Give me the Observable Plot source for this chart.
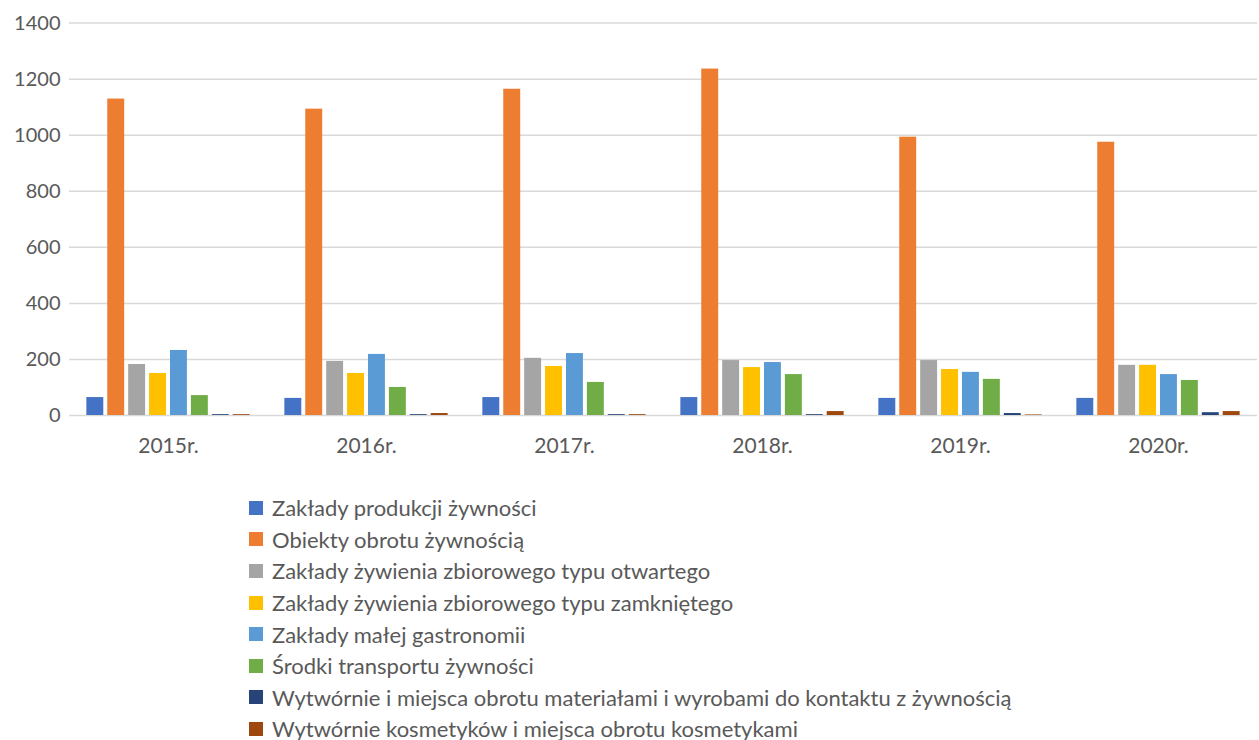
<!DOCTYPE html>
<html>
<head>
<meta charset="utf-8">
<script src="https://cdn.jsdelivr.net/npm/d3@7"></script>
<script src="https://cdn.jsdelivr.net/npm/@observablehq/plot@0.6"></script>
<style>
  html, body { margin: 0; padding: 0; background: #fff; }
  body { width: 1259px; height: 740px; overflow: hidden; font-family: Lato, "Open Sans", sans-serif; color: #595959; }
  #legend { margin-top: 22px; padding-left: 249px; }
  .row { height: 31.6px; display: flex; align-items: center; font-size: 22px; white-space: nowrap; }
  .sw { width: 14px; height: 14px; margin-right: 9px; flex: none; }
</style>
</head>
<body>
<div id="chart"></div>
<div id="legend"></div>
<script>
const years = ["2015r.", "2016r.", "2017r.", "2018r.", "2019r.", "2020r."];
const series = [
  "Zakłady produkcji żywności",
  "Obiekty obrotu żywnością",
  "Zakłady żywienia zbiorowego typu otwartego",
  "Zakłady żywienia zbiorowego typu zamkniętego",
  "Zakłady małej gastronomii",
  "Środki transportu żywności",
  "Wytwórnie i miejsca obrotu materiałami i wyrobami do kontaktu z żywnością",
  "Wytwórnie kosmetyków i miejsca obrotu kosmetykami"
];
const colors = ["#4472C4", "#ED7D31", "#A5A5A5", "#FFC000", "#5B9BD5", "#70AD47", "#264478", "#9E480E"];

const produkcja   = [64, 61, 64, 64, 61, 61];
const obrot       = [1129, 1093, 1164, 1236, 993, 975];
const otwarte     = [182, 193, 204, 196, 196, 179];
const zamkniete   = [150, 150, 175, 171, 164, 179];
const gastronomia = [232, 218, 221, 189, 154, 146];
const transport   = [71, 100, 118, 146, 129, 125];
const materialy   = [3, 3, 3, 3, 7, 10];
const kosmetyki   = [3, 7, 3, 14, 2, 14];
const yTicks = [0, 200, 400, 600, 800, 1000, 1200, 1400];

const valueArrays = [produkcja, obrot, otwarte, zamkniete, gastronomia, transport, materialy, kosmetyki];
const data = [];
years.forEach((yr, i) => {
  series.forEach((s, j) => data.push({year: yr, series: s, value: valueArrays[j][i]}));
});

const chart = Plot.plot({
  width: 1259,
  height: 470,
  marginLeft: 66,
  marginRight: 0,
  marginTop: 22.6,
  marginBottom: 55,
  style: {fontFamily: "Lato, 'Open Sans', sans-serif", fontSize: "20px", color: "#595959", background: "#fff"},
  fx: {domain: years, padding: 0, label: null},
  x: {domain: series, paddingInner: 0.19, paddingOuter: 0.83, axis: null, round: false},
  y: {domain: [0, 1400], label: null},
  color: {domain: series, range: colors},
  marks: [
    Plot.gridY(yTicks, {stroke: "#d9d9d9", strokeOpacity: 1, strokeWidth: 1.5}),
    Plot.barY(data, {fx: "year", x: "series", y: "value", fill: "series"}),
    Plot.axisY(yTicks, {tickSize: 0, tickPadding: 9, fontSize: 20, label: null, tickFormat: d => String(d)}),
    Plot.axisFx({anchor: "bottom", tickSize: 0, tickPadding: 23, fontSize: 21, label: null})
  ]
});
document.getElementById("chart").appendChild(chart);

const legend = document.getElementById("legend");
series.forEach((s, j) => {
  const row = document.createElement("div");
  row.className = "row";
  const sw = document.createElement("span");
  sw.className = "sw";
  sw.style.background = colors[j];
  const t = document.createElement("span");
  t.textContent = s;
  row.appendChild(sw);
  row.appendChild(t);
  legend.appendChild(row);
});
</script>
</body>
</html>
